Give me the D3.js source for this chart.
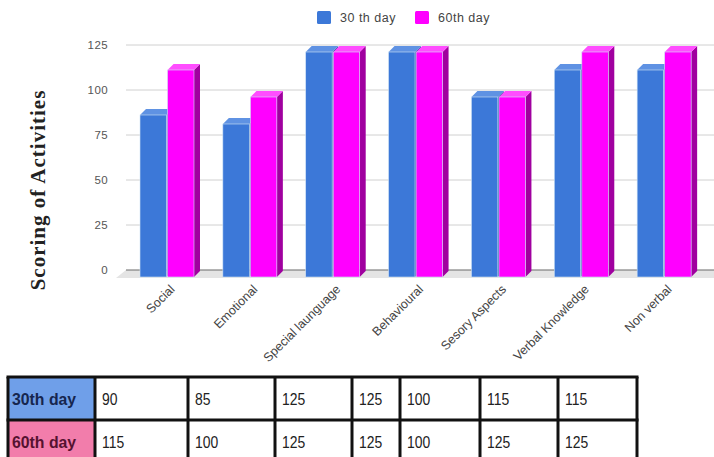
<!DOCTYPE html>
<html><head><meta charset="utf-8">
<script src="https://cdn.jsdelivr.net/npm/d3@7"></script>
<style>
html,body{margin:0;padding:0;background:#fff;}
svg{display:block;}
</style></head>
<body>
<svg id="chart" width="714" height="457"></svg>
<script>
// ---- data ----
const categories = ["Social","Emotional","Special launguage","Behavioural","Sesory Aspects","Verbal Knowledge","Non verbal"];
const seriesNames = ["30 th day","60th day"];
const day30 = [90,85,125,125,100,115,115];
const day60 = [115,100,125,125,100,125,125];
const yTicks = [0,25,50,75,100,125];
const tableRowLabels = ["30th day","60th day"];
const yTitle = "Scoring of Activities";

// ---- layout ----
const svg = d3.select("#chart");
const plotLeft = 126, plotRight = 706, gridRight = 714;
const y = d3.scaleLinear().domain([0,125]).range([270,45]);
const x0 = d3.scaleBand().domain(categories).range([plotLeft, plotRight]);
const x1 = d3.scaleBand().domain(seriesNames).range([14, 68]).paddingInner(0.04);
const depthX = 6, depthY = 6, drop = 7;
const sans = "Liberation Sans, Arial, sans-serif";

const colors = {
  "30 th day": {front:"#3c78d8", top:"#5f92e3", side:"#2a5aa8"},
  "60th day": {front:"#ff00ff", top:"#ff4dff", side:"#a0009f"}
};

// gridlines
svg.append("g").selectAll("line").data(yTicks.filter(d=>d>0)).join("line")
  .attr("x1", plotLeft).attr("x2", gridRight)
  .attr("y1", d=>y(d)).attr("y2", d=>y(d))
  .attr("stroke","#d0d0d0").attr("stroke-width",1);

// floor
const y0 = y(0);
svg.append("path")
  .attr("d", `M${plotLeft},${y0} L${gridRight},${y0} L${gridRight},${y0+8} L${plotLeft-10},${y0+8} Z`)
  .attr("fill","#e4e4e4");
svg.append("line").attr("x1",plotLeft).attr("x2",gridRight).attr("y1",y0).attr("y2",y0)
  .attr("stroke","#6b6b6b").attr("stroke-width",1.2);

// y tick labels
const yAxis = d3.axisLeft(y).tickValues(yTicks).tickSize(0).tickPadding(0);
const ga = svg.append("g").attr("transform",`translate(108,0)`).call(yAxis);
ga.select(".domain").remove();
ga.selectAll("text").attr("font-family",sans)
  .attr("font-size",11.5).attr("letter-spacing",0.4).attr("fill","#555");

// bars
const rows = categories.map((c,i)=>({cat:c, vals:[{s:seriesNames[0],v:day30[i]},{s:seriesNames[1],v:day60[i]}]}));
const groups = svg.append("g").selectAll("g").data(rows).join("g")
  .attr("transform", d=>`translate(${x0(d.cat)},0)`);
groups.each(function(d){
  const g = d3.select(this);
  d.vals.forEach(o=>{
    const bx = x1(o.s), bw = x1.bandwidth();
    const ft = y(o.v)+drop, fb = y0+drop;
    const c = colors[o.s];
    g.append("path").attr("d",`M${bx+bw},${ft} L${bx+bw+depthX},${ft-depthY} L${bx+bw+depthX},${fb-depthY} L${bx+bw},${fb} Z`).attr("fill",c.side);
    g.append("path").attr("d",`M${bx},${ft} L${bx+depthX},${ft-depthY} L${bx+bw+depthX},${ft-depthY} L${bx+bw},${ft} Z`).attr("fill",c.top);
    g.append("rect").attr("x",bx).attr("y",ft).attr("width",bw).attr("height",fb-ft).attr("fill",c.front)
      .attr("stroke","#cfe3f5").attr("stroke-width",0.6);
  });
});

// x labels
svg.append("g").selectAll("text").data(categories).join("text")
  .attr("transform", d=>`translate(${x0(d)+x0.bandwidth()/2+8},${290}) rotate(-45)`)
  .attr("text-anchor","end")
  .attr("font-family",sans).attr("font-size",12.5).attr("fill","#444")
  .text(d=>d);

// legend
const leg = svg.append("g");
const legX = [317, 415];
seriesNames.forEach((s,i)=>{
  leg.append("rect").attr("x",legX[i]).attr("y",11).attr("width",14).attr("height",13).attr("rx",1.5)
    .attr("fill",colors[s].front);
  leg.append("text").attr("x",legX[i]+23).attr("y",22)
    .attr("font-family",sans).attr("font-size",12.5).attr("letter-spacing",0.5).attr("fill","#444").text(s);
});

// y title
svg.append("text").attr("transform","translate(45,190) rotate(-90)")
  .attr("text-anchor","middle")
  .attr("font-family","Liberation Serif, Times New Roman, serif").attr("font-weight","bold")
  .attr("font-size",21).attr("letter-spacing",1).attr("fill","#222").text(yTitle);

// table
const colEdges = [8,95,188,275,352,400,480,558,637];
const rowEdges = [377,420,463];
const tableData = [day30, day60];
const headFill = ["#6f9fe9","#f27dab"];
const headText = ["#16264f","#561230"];
const tg = svg.append("g");
tableData.forEach((vals,r)=>{
  const cy = (rowEdges[r]+rowEdges[r+1])/2+6;
  tg.append("rect").attr("x",colEdges[0]).attr("y",rowEdges[r]).attr("width",colEdges[1]-colEdges[0]).attr("height",rowEdges[r+1]-rowEdges[r]).attr("fill",headFill[r]);
  tg.append("text").attr("transform",`translate(${colEdges[0]+4},${cy}) scale(0.93,1)`)
    .attr("font-family",sans).attr("font-weight","bold")
    .attr("font-size",17).attr("fill",headText[r]).text(tableRowLabels[r]);
  vals.forEach((v,ci)=>{
    tg.append("text").attr("transform",`translate(${colEdges[ci+1]+7},${cy}) scale(0.82,1)`)
      .attr("font-family",sans)
      .attr("font-size",17).attr("fill","#222").text(v);
  });
});
colEdges.forEach(cx=>{
  tg.append("line").attr("x1",cx).attr("x2",cx).attr("y1",rowEdges[0]).attr("y2",rowEdges[2]).attr("stroke","#111").attr("stroke-width",3);
});
rowEdges.forEach(ry=>{
  tg.append("line").attr("x1",colEdges[0]-1.5).attr("x2",colEdges[colEdges.length-1]+1.5).attr("y1",ry).attr("y2",ry).attr("stroke","#111").attr("stroke-width",3);
});
</script>
</body></html>
